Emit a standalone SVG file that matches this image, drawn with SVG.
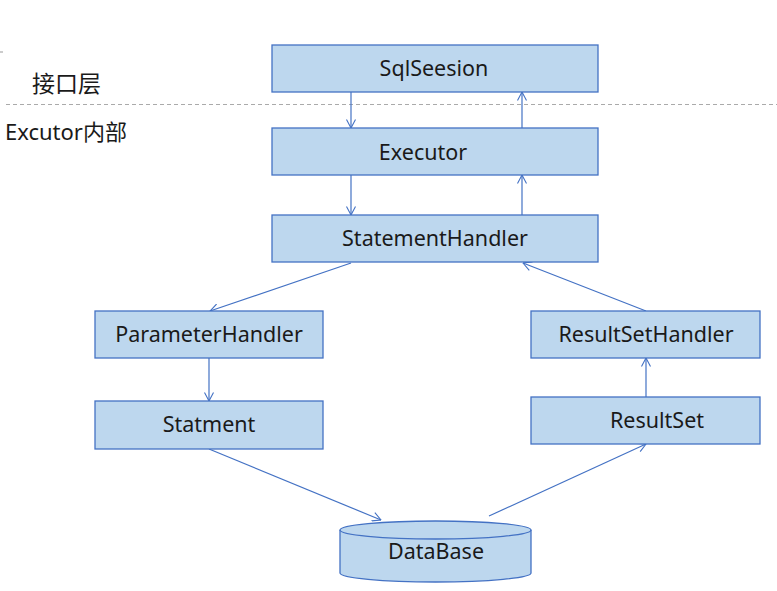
<svg xmlns="http://www.w3.org/2000/svg" width="777" height="591" viewBox="0 0 777 591">
<defs>
<style>
.box{fill:#BDD7EE;stroke:#4472C4;stroke-width:1.3}
.t{font-family:"Noto Sans","Noto Sans CJK SC",sans-serif;font-size:21.5px;fill:#1a1a1a;text-anchor:middle}
.lbl{font-family:"Noto Sans","Noto Sans CJK SC",sans-serif;font-size:22px;fill:#1a1a1a}
.c{stroke:#4472C4;stroke-width:1.2;fill:none;marker-end:url(#arr)}
</style>
<marker id="arr" viewBox="0 0 10 10" refX="9.5" refY="5" markerWidth="10" markerHeight="10" markerUnits="userSpaceOnUse" orient="auto">
<path d="M1,0.5 L9.5,5 L1,9.5" fill="none" stroke="#4472C4" stroke-width="1.1"/>
</marker>
</defs>
<rect width="777" height="591" fill="#fff"/>
<line x1="0" y1="52" x2="3" y2="52" stroke="#999" stroke-width="1"/>
<line x1="6" y1="104.5" x2="777" y2="104.5" stroke="#aaa" stroke-width="1" stroke-dasharray="4,3"/>
<text class="lbl" x="32" y="92" style="font-size:23px">接口层</text>
<text class="lbl" x="5" y="140">Excutor内部</text>

<g id="connectors">
<line class="c" x1="351" y1="92" x2="351" y2="128"/>
<line class="c" x1="522" y1="128" x2="522" y2="92"/>
<line class="c" x1="351" y1="175" x2="351" y2="215"/>
<line class="c" x1="522" y1="215" x2="522" y2="175"/>
<line class="c" x1="351" y1="263" x2="210" y2="311"/>
<line class="c" x1="209" y1="358" x2="209" y2="401"/>
<line class="c" x1="209" y1="449" x2="381" y2="520"/>
<line class="c" x1="489" y1="516" x2="646" y2="444"/>
<line class="c" x1="646" y1="397" x2="646" y2="358"/>
<line class="c" x1="646" y1="311" x2="523" y2="263"/>
</g>

<g id="sqlseesion"><rect class="box" x="272" y="45" width="326" height="47"/><text class="t" x="434" y="76">SqlSeesion</text></g>
<g id="executor"><rect class="box" x="272" y="128" width="326" height="47"/><text class="t" x="423" y="160">Executor</text></g>
<g id="statementhandler"><rect class="box" x="272" y="215" width="326" height="47"/><text class="t" x="435" y="246">StatementHandler</text></g>
<g id="parameterhandler"><rect class="box" x="95" y="311" width="228" height="47"/><text class="t" x="209" y="342">ParameterHandler</text></g>
<g id="statment"><rect class="box" x="95" y="401" width="228" height="48"/><text class="t" x="209" y="432">Statment</text></g>
<g id="resultsethandler"><rect class="box" x="531" y="311" width="229" height="47"/><text class="t" x="646" y="342">ResultSetHandler</text></g>
<g id="resultset"><rect class="box" x="531" y="397" width="229" height="47"/><text class="t" x="657" y="428">ResultSet</text></g>
<g id="database">
<path class="box" d="M340,530 L340,573 A95.5,9 0 0 0 531,573 L531,530 A95.5,9 0 0 0 340,530 Z"/>
<path d="M340,530 A95.5,9 0 0 0 531,530" fill="none" stroke="#4472C4" stroke-width="1.3"/>
<text class="t" x="436" y="559">DataBase</text>
</g>
</svg>
